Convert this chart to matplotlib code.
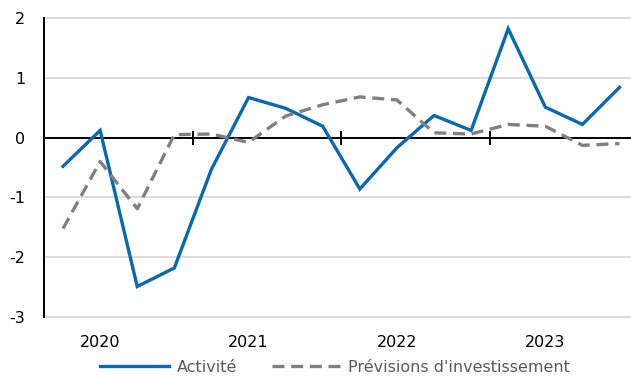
import matplotlib
matplotlib.use("Agg")
import matplotlib.pyplot as plt
import matplotlib.transforms as mtransforms

# quarterly data, 2020 Q1 .. 2023 Q4
years = ["2020", "2021", "2022", "2023"]
activite = [-0.48, 0.12, -2.49, -2.18, -0.53, 0.67, 0.49, 0.19,
            -0.86, -0.17, 0.37, 0.12, 1.82, 0.51, 0.22, 0.84]
previsions = [-1.52, -0.40, -1.19, 0.05, 0.06, -0.08, 0.36, 0.55,
              0.68, 0.63, 0.08, 0.06, 0.22, 0.19, -0.13, -0.10]
yticks = [-3, -2, -1, 0, 1, 2]

BLUE = "#0868B0"
GREY = "#808080"

plt.rcParams["font.family"] = ["DejaVu Sans"]
plt.rcParams["axes.unicode_minus"] = False

fig = plt.figure(figsize=(6.31, 3.76), dpi=100)
ax = fig.add_axes([44.5 / 631, 59 / 376, 1 - 44.5 / 631, 299 / 376])

x = list(range(len(activite)))
ax.plot(x, activite, color=BLUE, lw=2.4, solid_joinstyle="miter",
        label="Activité", zorder=3)
ax.plot(x, previsions, color=GREY, lw=2.4, dashes=(3.6, 2.0),
        label="Prévisions d'investissement", zorder=3)

ax.set_xlim(-0.5, 15.31)
ax.set_ylim(-3, 2)

# horizontal grid
for v in yticks:
    if v != 0:
        ax.axhline(v, color="#D9D9D9", lw=1.3, zorder=1, clip_on=False)

# spines
for s in ["top", "right"]:
    ax.spines[s].set_visible(False)
ax.spines["left"].set_linewidth(1.4)
ax.spines["bottom"].set_position(("data", 0))
ax.spines["bottom"].set_linewidth(1.4)
ax.spines["bottom"].set_zorder(2)

# year separators on the zero line
n_years = len(years)
ax.set_xticks([4 * i + 3.5 for i in range(n_years - 1)])
ax.tick_params(axis="x", direction="inout", length=10, width=1.4,
               labelbottom=False)
# year labels at bottom (under Q2)
trans = mtransforms.blended_transform_factory(ax.transData, ax.transAxes)
for i, yr in enumerate(years):
    ax.text(4 * i + 1, -0.085, yr, transform=trans, ha="center", va="center",
            fontsize=11.5, color="black")

ax.set_yticks(yticks)
ax.set_yticklabels([str(v) for v in yticks])
ax.tick_params(axis="y", length=0, pad=14, labelsize=11.5)

leg = ax.legend(loc="lower center", bbox_to_anchor=(0.496, -0.215), ncol=2,
                frameon=False, fontsize=11.5, handlelength=4.3,
                columnspacing=2.15, handletextpad=0.5, borderaxespad=0)
for t in leg.get_texts():
    t.set_color("#595959")

fig.savefig("out.png", dpi=100)
